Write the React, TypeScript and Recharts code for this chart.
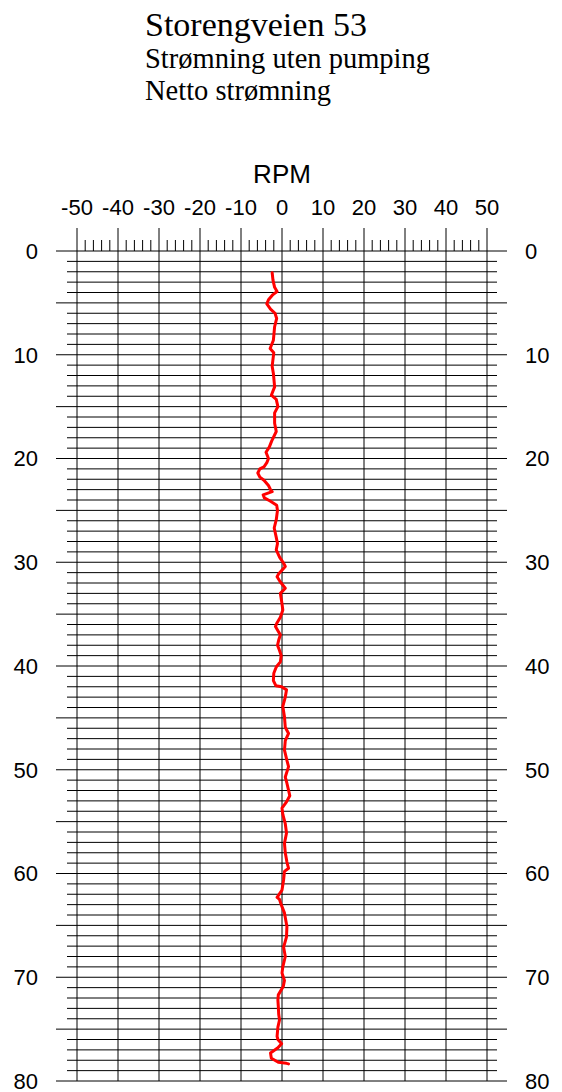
import React from "react";
import { ScatterChart, Scatter, XAxis, YAxis, CartesianGrid, ReferenceLine, Label } from "recharts";

const depthM = [
  2.1, 2.8, 3.5, 3.9, 4.2, 4.7, 5.1, 5.6, 6.0, 6.5, 7.3, 8.6, 9.4, 9.8, 11.1, 11.8, 13.1, 13.9, 14.3, 15.0,
  15.6, 16.6, 17.4, 18.3, 18.9, 19.4, 20.0, 20.4, 20.8, 21.0, 21.4, 21.8, 22.1, 22.6, 23.0, 23.2, 23.5, 23.8,
  24.1, 24.5, 25.0, 25.9, 26.7, 27.6, 28.2, 28.8, 29.5, 30.1, 30.4, 31.1, 31.4, 31.9, 32.5, 33.0, 34.0, 34.6,
  35.3, 35.9, 36.2, 36.6, 37.0, 37.5, 38.0, 38.5, 39.0, 39.6, 40.1, 40.7, 41.4, 41.9, 42.0, 42.3, 43.0, 43.9,
  44.9, 45.9, 46.5, 47.2, 48.1, 49.1, 49.7, 50.7, 51.3, 52.5, 53.1, 53.7, 54.3, 55.2, 56.1, 57.1, 58.0, 58.9,
  59.5, 59.8, 60.6, 61.6, 62.3, 62.5, 63.0, 63.8, 65.1, 66.1, 67.1, 68.0, 69.0, 69.6, 70.3, 70.9, 71.7, 72.2,
  72.8, 73.6, 74.1, 74.8, 75.7, 76.0, 76.4, 76.8, 77.3, 77.8, 78.2, 78.3, 78.35,
];
const rpmValues = [
  -2.4, -2.2, -1.8, -1.2, -2.2, -3.3, -3.7, -2.8, -1.7, -1.3, -1.8, -2.1, -2.9, -2.0, -2.4, -2.1, -1.8, -2.6, -1.4, -1.0,
  -1.8, -1.8, -1.4, -2.5, -3.1, -3.9, -3.3, -3.7, -4.4, -5.4, -5.9, -5.4, -4.4, -3.3, -2.8, -2.4, -4.6, -4.3,
  -2.9, -1.3, -1.1, -1.4, -1.9, -1.4, -1.1, -1.4, -0.6, 0.4, 0.8, -0.8, -1.2, -0.4, 0.8, -0.4, 0.0, 0.2,
  -0.4, -1.3, -1.6, -1.0, -0.4, -0.8, -1.1, -0.6, -0.2, -0.4, -1.4, -2.0, -2.1, -1.5, -0.1, 1.1, 0.8, 0.2,
  0.6, 0.8, 1.6, 0.8, 0.6, 1.2, 1.6, 0.8, 1.2, 1.9, 1.1, 0.0, 0.2, 0.8, 1.1, 0.6, 0.8, 1.2,
  1.6, 0.6, 0.4, 0.0, -1.2, -0.6, -0.2, 0.6, 1.2, 1.1, 0.4, 0.8, 0.2, 0.0, 0.6, 0.3, -0.9, -1.0,
  -0.9, -0.8, -0.6, -1.0, -1.2, -1.0, -0.1, -1.0, -2.8, -2.6, -0.9, 1.1, 1.6,
];

const rpmLabels = [-50, -40, -30, -20, -10, 0, 10, 20, 30, 40, 50];
const depthLabels = [0, 10, 20, 30, 40, 50, 60, 70, 80];
const rpmTicks = Array.from({ length: 51 }, (_, i) => -50 + i * 2);
const depthTicks = Array.from({ length: 81 }, (_, i) => i);

const titleLines = ["Storengveien 53", "Strømning uten pumping", "Netto strømning"];

const points = depthM.map((d, i) => ({ depth: d, rpm: rpmValues[i] }));

const sans = '"Liberation Sans", Arial, sans-serif';
const serif = '"Liberation Serif", "Times New Roman", serif';

function TopTick(props: any) {
  const { x, y, payload } = props;
  const v = payload.value;
  const major = rpmLabels.includes(v);
  return (
    <g>
      <line x1={x} x2={x} y1={y} y2={y - (major ? 23 : 11)} stroke="#000" />
      {major && (
        <text x={x} y={y - 36} textAnchor="middle" fontSize={22} fontFamily={sans} fill="#000">
          {v}
        </text>
      )}
    </g>
  );
}

function LeftTick(props: any) {
  const { x, y, payload } = props;
  const v = payload.value;
  const major = v % 5 === 0;
  return (
    <g>
      <line x1={x - (major ? 21 : 10)} x2={x} y1={y} y2={y} stroke="#000" />
      {depthLabels.includes(v) && (
        <text x={x - 39} y={y} dy="0.36em" textAnchor="end" fontSize={22} fontFamily={sans} fill="#000">
          {v}
        </text>
      )}
    </g>
  );
}

function RightTick(props: any) {
  const { x, y, payload } = props;
  const v = payload.value;
  const major = v % 5 === 0;
  return (
    <g>
      <line x1={x} x2={x + (major ? 20 : 10)} y1={y} y2={y} stroke="#000" />
      {depthLabels.includes(v) && (
        <text x={x + 38} y={y} dy="0.36em" textAnchor="start" fontSize={22} fontFamily={sans} fill="#000">
          {v}
        </text>
      )}
    </g>
  );
}

export default function App() {
  return (
    <div style={{ position: "absolute", left: 0, top: 0, width: 562, height: 1092, background: "#fff" }}>
      <svg width={562} height={120} style={{ position: "absolute", left: 0, top: 0 }}>
        <text x={145} y={36} fontSize={34} fontFamily={serif} fill="#000">{titleLines[0]}</text>
        <text x={145} y={68} fontSize={28.5} fontFamily={serif} fill="#000">{titleLines[1]}</text>
        <text x={145} y={100} fontSize={28.5} fontFamily={serif} fill="#000">{titleLines[2]}</text>
      </svg>
      <ScatterChart width={562} height={1092} margin={{ top: 151, right: 15, bottom: 11, left: 17 }}>
        <CartesianGrid vertical={false} stroke="#000" strokeOpacity={1} />
        <XAxis
          type="number"
          dataKey="rpm"
          orientation="top"
          domain={[-50, 50]}
          ticks={rpmTicks}
          interval={0}
          height={100}
          tickSize={0}
          tickMargin={0}
          axisLine={false}
          tick={<TopTick />}
        >
          <Label value="RPM" position="insideTop" offset={14} fontSize={26} fontFamily={sans} fill="#000" />
        </XAxis>
        <YAxis
          type="number"
          dataKey="depth"
          domain={[0, 80]}
          reversed
          ticks={depthTicks}
          interval={0}
          width={60}
          tickSize={0}
          tickMargin={0}
          axisLine={false}
          tick={<LeftTick />}
        />
        <YAxis
          yAxisId="right"
          orientation="right"
          type="number"
          dataKey="depth"
          domain={[0, 80]}
          reversed
          ticks={depthTicks}
          interval={0}
          width={60}
          tickSize={0}
          tickMargin={0}
          axisLine={false}
          tick={<RightTick />}
        />
        {rpmLabels.map((v) => (
          <ReferenceLine key={v} x={v} stroke="#000" strokeWidth={1} />
        ))}
        {/* invisible copy so the right-hand depth axis is bound to data */}
        <Scatter
          data={points}
          yAxisId="right"
          isAnimationActive={false}
          legendType="none"
          shape={() => <g />}
        />
        <Scatter
          data={points}
          isAnimationActive={false}
          line={{ stroke: "#ff0000", strokeWidth: 3, strokeLinejoin: "round", strokeLinecap: "round" }}
          lineType="joint"
          shape={() => <g />}
        />
      </ScatterChart>
    </div>
  );
}
